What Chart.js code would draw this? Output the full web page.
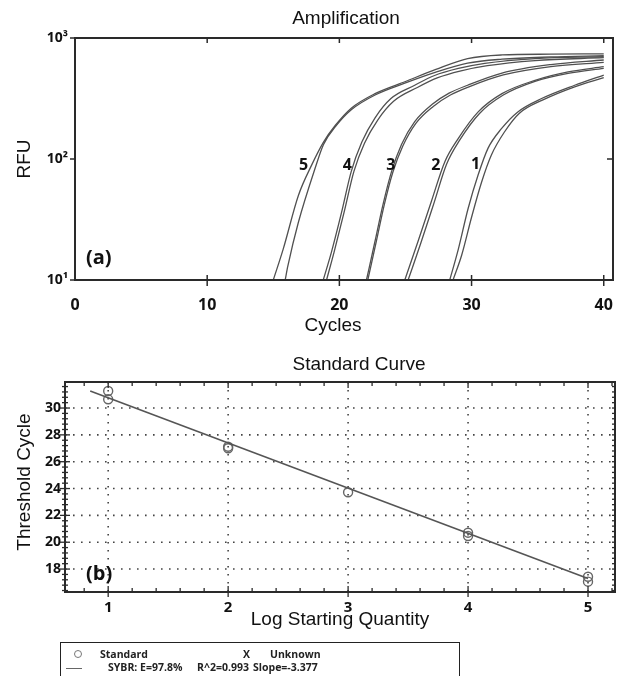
<!DOCTYPE html>
<html>
<head>
<meta charset="utf-8">
<script src="https://cdn.jsdelivr.net/npm/chart.js@4/dist/chart.umd.min.js"></script>
<style>
  html,body{margin:0;padding:0;background:#fff;}
  body{width:623px;height:676px;overflow:hidden;position:relative;font-family:"Liberation Sans",Arial,sans-serif;}
  #c1{position:absolute;left:0;top:0;}
  #c2{position:absolute;left:0;top:340px;}
  #legend{position:absolute;left:60px;top:642px;width:400px;height:44px;border:1.5px solid #222;border-bottom:none;box-sizing:border-box;
          font-family:"Open Sans",sans-serif;font-weight:700;font-size:10.5px;color:#222;}
  #legend span{position:absolute;line-height:12px;white-space:nowrap;}
  #legend .mk{position:absolute;width:6px;height:6px;border:1.2px solid #777;border-radius:50%;}
  #legend .ln{position:absolute;height:0;border-top:1.2px solid #666;}
</style>
</head>
<body>
<canvas id="c1" width="623" height="340"></canvas>
<canvas id="c2" width="623" height="336"></canvas>
<div id="legend">
  <div class="mk" style="left:13px;top:7px;"></div>
  <span style="left:39px;top:5px;">Standard</span>
  <span style="left:182px;top:5px;">X</span>
  <span style="left:209px;top:5px;">Unknown</span>
  <div class="ln" style="left:5px;top:25px;width:16px;"></div>
  <span style="left:47px;top:18px;">SYBR: E=97.8%</span>
  <span style="left:136px;top:18px;">R^2=0.993</span>
  <span style="left:192px;top:18px;">Slope=-3.377</span>
</div>
<script>
// ---------------- Amplification plot data (cycle, RFU) ----------------
const CYCLE_TICKS = [0, 10, 20, 30, 40];
const RFU_TICKS = [10, 100, 1000];
const RFU_TICK_LABELS = ['10\u00B9', '10\u00B2', '10\u00B3'];

const CURVE_5A = [[15.0,10],[15.75,18],[16.9,50],[17.9,89],[18.8,138],[19.7,190],[20.9,263],[22.7,347],[25.0,437],[27.3,550],[29.7,676],[32.3,724],[36,735],[40,740]];
const CURVE_5B = [[15.9,10],[16.1,13],[16.9,30],[18.15,83],[18.8,132],[19.7,185],[20.9,255],[22.7,338],[25.0,425],[27.3,522],[29.7,620],[32.3,668],[36,697],[40,714]];
const CURVE_4A = [[18.78,10],[19.4,17],[20.16,36],[20.9,79],[21.7,138],[22.7,219],[23.9,316],[25.7,407],[27.2,490],[29,560],[31,617],[34.8,676],[40,700]];
const CURVE_4B = [[19.03,10],[19.6,17],[20.35,36],[21.1,79],[21.9,135],[22.9,210],[24.1,300],[25.9,390],[27.4,468],[29.2,535],[31.2,590],[34.8,650],[40,688]];
const CURVE_3A = [[22.05,10],[22.7,21],[23.3,42],[23.95,79],[24.7,132],[25.7,204],[27.0,282],[28.3,350],[29.7,407],[32.3,513],[36,603],[40,658]];
const CURVE_3B = [[22.15,10],[22.8,21],[23.4,42],[24.05,78],[24.8,128],[25.8,198],[27.1,272],[28.4,338],[29.8,395],[32.4,495],[36,580],[40,630]];
const CURVE_2A = [[24.95,10],[25.96,21],[26.97,45],[27.98,95],[29.0,148],[30.5,245],[32.3,347],[34.8,447],[37.3,525],[40,579]];
const CURVE_2B = [[25.2,10],[26.15,20],[27.15,43],[28.1,90],[29.1,143],[30.6,238],[32.4,338],[34.8,438],[37.3,510],[40,562]];
const CURVE_1A = [[28.35,10],[29.0,18],[29.74,39],[30.5,74],[31.25,123],[32.26,178],[33.5,245],[35.3,316],[37.8,407],[40,494]];
const CURVE_1B = [[28.6,10],[29.25,16],[30.0,33],[30.75,64],[31.5,108],[32.5,168],[33.6,238],[35.4,308],[37.8,395],[40,470]];
const CURVES = [CURVE_5A, CURVE_5B, CURVE_4A, CURVE_4B, CURVE_3A, CURVE_3B, CURVE_2A, CURVE_2B, CURVE_1A, CURVE_1B];

const CURVE_LABELS = ['5', '4', '3', '2', '1'];
const CURVE_LABEL_CYCLES = [17.3, 20.6, 23.9, 27.3, 30.3];
const CURVE_LABEL_RFU = [89, 89, 89, 89, 90];

// ---------------- Standard curve data ----------------
const LOG_TICKS = [1, 2, 3, 4, 5];
const CT_TICKS = [18, 20, 22, 24, 26, 28, 30];
const STD_LOGQ = [1, 1, 2, 2, 3, 4, 4, 5, 5];
const STD_CT   = [31.27, 30.65, 27.12, 27.0, 23.72, 20.71, 20.46, 17.43, 17.06];
const FIT_LOGQ = [0.85, 5.0];
const FIT_CT   = [31.27, 17.3];
const MINOR_X_STEP = 0.2;
const MINOR_Y_STEP = 0.4;

Chart.defaults.font.family = '"Liberation Sans", Arial, sans-serif';
Chart.defaults.color = '#1a1a1a';

const OPEN = '"Open Sans", sans-serif';
const SANS = '"Liberation Sans", Arial, sans-serif';

function line(ctx, x1, y1, x2, y2) { ctx.beginPath(); ctx.moveTo(x1, y1); ctx.lineTo(x2, y2); ctx.stroke(); }
function fixBox(s, w, h) {
  if (w !== undefined) s.width = w;
  if (h !== undefined) s.height = h;
  s.paddingLeft = 0; s.paddingRight = 0; s.paddingTop = 0; s.paddingBottom = 0;
}

const ampDecor = {
  id: 'ampDecor',
  afterDraw(chart) {
    const {ctx, chartArea: a, scales: {x, y}} = chart;
    ctx.save();
    ctx.strokeStyle = '#2a2a2a';
    ctx.lineWidth = 2;
    ctx.strokeRect(a.left, a.top, a.right - a.left, a.bottom - a.top);
    ctx.lineWidth = 1.5;
    CYCLE_TICKS.forEach(v => {
      if (v === 0) return;
      const px = x.getPixelForValue(v);
      line(ctx, px, a.top, px, a.top + 5);
      line(ctx, px, a.bottom - 5, px, a.bottom + 6);
    });
    RFU_TICKS.forEach(v => {
      const py = y.getPixelForValue(v);
      line(ctx, a.left - 5, py, a.left, py);
      if (v === 100) line(ctx, a.right - 6, py, a.right, py);
    });
    ctx.fillStyle = '#111';
    ctx.textAlign = 'center';
    ctx.textBaseline = 'middle';
    const cx = (a.left + a.right) / 2;
    ctx.font = '19px ' + SANS;
    ctx.fillText('Amplification', cx + 2, 18.5);
    ctx.fillText('Cycles', cx - 11, 325.5);
    ctx.font = 'bold 16px ' + OPEN;
    CURVE_LABELS.forEach((t, i) => ctx.fillText(t, x.getPixelForValue(CURVE_LABEL_CYCLES[i]), y.getPixelForValue(CURVE_LABEL_RFU[i])));
    ctx.font = 'bold 20px ' + OPEN;
    ctx.textAlign = 'left';
    ctx.fillText('(a)', a.left + 11, a.bottom - 22);
    ctx.restore();
  }
};

new Chart(document.getElementById('c1'), {
  type: 'line',
  data: {
    datasets: CURVES.map(c => ({
      data: c.map(p => ({x: p[0], y: p[1]})),
      borderColor: '#505050',
      borderWidth: 1.3,
      pointRadius: 0,
      fill: false,
      cubicInterpolationMode: 'monotone'
    }))
  },
  options: {
    responsive: false,
    animation: false,
    layout: {padding: {left: 0, right: 10, top: 38, bottom: 0}},
    plugins: {
      legend: {display: false},
      tooltip: {enabled: false},
      title: {display: false}
    },
    scales: {
      x: {
        type: 'linear', min: 0, max: 40.7,
        afterBuildTicks: s => { s.ticks = CYCLE_TICKS.map(v => ({value: v})); },
        afterFit: s => fixBox(s, undefined, 60),
        grid: {display: false, drawTicks: false}, border: {display: false},
        ticks: {font: {family: OPEN, weight: 'bold', size: 16}, color: '#111', padding: 16, maxRotation: 0},
        title: {display: false}
      },
      y: {
        type: 'logarithmic', min: 10, max: 1000,
        afterBuildTicks: s => { s.ticks = RFU_TICKS.map(v => ({value: v})); },
        afterFit: s => fixBox(s, 75, undefined),
        grid: {display: false, drawTicks: false}, border: {display: false},
        ticks: {font: {family: OPEN, weight: 'bold', size: 14}, color: '#111', padding: 7, callback: v => RFU_TICK_LABELS[RFU_TICKS.indexOf(v)]},
        title: {display: true, text: 'RFU', font: {size: 19}, color: '#111', padding: {top: 13, bottom: 0}}
      }
    }
  },
  plugins: [ampDecor]
});

const stdDecor = {
  id: 'stdDecor',
  beforeDatasetsDraw(chart) {
    const {ctx, chartArea: a, scales: {x, y}} = chart;
    ctx.save();
    ctx.strokeStyle = '#444';
    ctx.lineWidth = 1.6;
    ctx.setLineDash([1.6, 6.4]);
    LOG_TICKS.forEach(v => { const px = x.getPixelForValue(v); line(ctx, px, a.top, px, a.bottom); });
    CT_TICKS.forEach(v => { const py = y.getPixelForValue(v); line(ctx, a.left, py, a.right, py); });
    ctx.restore();
  },
  afterDraw(chart) {
    const {ctx, chartArea: a, scales: {x, y}} = chart;
    ctx.save();
    ctx.strokeStyle = '#2a2a2a';
    ctx.lineWidth = 2;
    ctx.strokeRect(a.left, a.top, a.right - a.left, a.bottom - a.top);
    ctx.lineWidth = 1.3;
    for (let k = -2; k <= 22; k++) {
      const v = 1 + k * MINOR_X_STEP;
      if (v < x.min || v > x.max) continue;
      const px = x.getPixelForValue(v);
      const major = Math.abs(v - Math.round(v)) < 1e-6;
      line(ctx, px, a.top, px, a.top + (major ? 6 : 4));
      line(ctx, px, a.bottom - (major ? 6 : 4), px, a.bottom + (major ? 5 : 0));
    }
    for (let k = -5; k <= 40; k++) {
      const v = 18 + k * MINOR_Y_STEP;
      if (v < y.min || v > y.max) continue;
      const py = y.getPixelForValue(v);
      const major = CT_TICKS.some(t => Math.abs(t - v) < 1e-6);
      line(ctx, a.left - (major ? 5 : 3), py, a.left + (major ? 5 : 3), py);
      line(ctx, a.right - 3, py, a.right + 1, py);
    }
    ctx.fillStyle = '#111';
    ctx.textAlign = 'center';
    ctx.textBaseline = 'middle';
    ctx.font = '19px ' + SANS;
    ctx.fillText('Standard Curve', (a.left + a.right) / 2 + 19, 24.5);
    ctx.save();
    ctx.translate(24.5, (a.top + a.bottom) / 2 - 5);
    ctx.rotate(-Math.PI / 2);
    ctx.fillText('Threshold Cycle', 0, 0);
    ctx.restore();
    ctx.font = 'bold 20px ' + OPEN;
    ctx.textAlign = 'left';
    ctx.fillText('(b)', a.left + 21, a.bottom - 18);
    ctx.restore();
  }
};

new Chart(document.getElementById('c2'), {
  type: 'scatter',
  data: {
    datasets: [
      {
        type: 'line',
        data: FIT_LOGQ.map((v, i) => ({x: v, y: FIT_CT[i]})),
        borderColor: '#555', borderWidth: 1.6, pointRadius: 0, fill: false
      },
      {
        data: STD_LOGQ.map((v, i) => ({x: v, y: STD_CT[i]})),
        pointStyle: 'circle', pointRadius: 4.5, borderColor: '#666', borderWidth: 1.4,
        backgroundColor: 'rgba(0,0,0,0)'
      }
    ]
  },
  options: {
    responsive: false,
    animation: false,
    layout: {padding: {left: 0, right: 8, top: 42, bottom: 0}},
    plugins: {
      legend: {display: false},
      tooltip: {enabled: false},
      title: {display: false}
    },
    scales: {
      x: {
        type: 'linear', min: 0.64, max: 5.225,
        afterBuildTicks: s => { s.ticks = LOG_TICKS.map(v => ({value: v})); },
        afterFit: s => fixBox(s, undefined, 84),
        grid: {display: false, drawTicks: false}, border: {display: false},
        ticks: {font: {family: OPEN, weight: 'bold', size: 15}, color: '#111', padding: 7, maxRotation: 0},
        title: {display: true, text: 'Log Starting Quantity', font: {size: 19}, color: '#111', padding: {top: 0, bottom: 45}}
      },
      y: {
        type: 'linear', min: 16.29, max: 31.94,
        afterBuildTicks: s => { s.ticks = CT_TICKS.map(v => ({value: v})); },
        afterFit: s => fixBox(s, 65, undefined),
        grid: {display: false, drawTicks: false}, border: {display: false},
        ticks: {font: {family: OPEN, weight: 'bold', size: 14}, color: '#111', padding: 4},
        title: {display: false}
      }
    }
  },
  plugins: [stdDecor]
});
</script>
</body>
</html>
